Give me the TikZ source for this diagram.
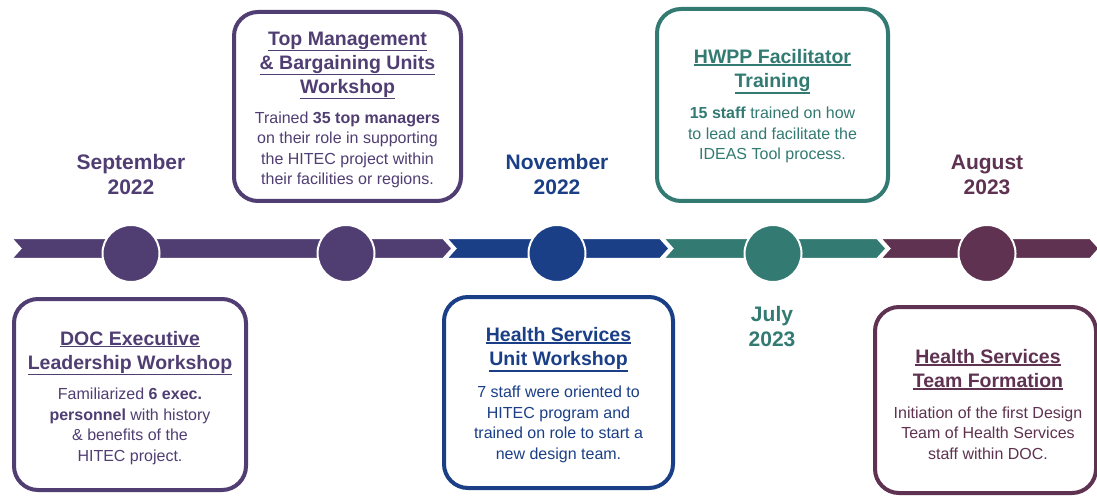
\documentclass[tikz,border=0pt]{standalone}
\usepackage{fontspec}
\setmainfont{Liberation Sans}
\definecolor{cpur}{HTML}{503E73}
\definecolor{cblu}{HTML}{1B3F87}
\definecolor{ctea}{HTML}{327A72}
\definecolor{cmar}{HTML}{5E3250}
\newcommand\tul[1]{\setbox0\hbox{#1}\rlap{\raisebox{-\dimexpr\dp0+1.9pt\relax}{\rule{\wd0}{1.2pt}}}\box0}
\tikzset{
  band/.style={fill=#1,draw=white,line width=1.2pt},
  dot/.style={circle,minimum size=57pt,inner sep=0pt,fill=#1,draw=white,line width=2pt},
  evbox/.style={draw=#1,line width=4pt,rounded corners=24pt,fill=white},
  ttl/.style={text=#1,font=\bfseries\fontsize{19.5}{24}\selectfont,align=center,inner sep=0pt},
  bdy/.style={text=#1,font=\fontsize{16}{20.5}\selectfont,align=center,inner sep=0pt},
  datelbl/.style={text=#1,font=\bfseries\fontsize{21}{25}\selectfont,align=center,inner sep=0pt}
}
\begin{document}
\begin{tikzpicture}[x=1pt,y=-1pt]
\useasboundingbox (0,0) rectangle (1097,497);
\clip (0,0) rectangle (1097,497);
% timeline band
\fill[band=cpur] (12,238.5) -- (443,238.5) -- (452,248.5) -- (443,258.5) -- (12,258.5) -- (21,248.5) -- cycle;
\fill[band=cblu] (447,238.5) -- (660,238.5) -- (669,248.5) -- (660,258.5) -- (447,258.5) -- (456,248.5) -- cycle;
\fill[band=ctea] (664,238.5) -- (877,238.5) -- (886,248.5) -- (877,258.5) -- (664,258.5) -- (673,248.5) -- cycle;
\fill[band=cmar] (881,238.5) -- (1090,238.5) -- (1099,248.5) -- (1090,258.5) -- (881,258.5) -- (890,248.5) -- cycle;
% circles
\node[dot=cpur] (c1) at (131,253.5) {};
\node[dot=cpur] (c2) at (346,253.5) {};
\node[dot=cblu] (c3) at (557,253.5) {};
\node[dot=ctea] (c4) at (773,253.5) {};
\node[dot=cmar] (c5) at (987,253.5) {};
% dates
\node[datelbl=cpur] (d1) at (131,174.5) {September\\2022};
\node[datelbl=cblu] (d3) at (557,174.5) {November\\2022};
\node[datelbl=ctea] (d4) at (772,326.5) {July\\2023};
\node[datelbl=cmar] (d5) at (987,174.5) {August\\2023};
% boxes
\draw[evbox=cpur] (14,299) rectangle (246,490);
\node[ttl=cpur] (t1) at (130,353) {\tul{DOC Executive}\\\tul{Leadership Workshop}};
\node[bdy=cpur] (b1) at (130,426.5) {Familiarized \textbf{6 exec.}\\\textbf{personnel} with history\\\& benefits of the\\HITEC project.};

\draw[evbox=cpur] (234,12) rectangle (461,201);
\node[ttl=cpur] (t2) at (347.5,65.5) {\tul{Top Management}\\\tul{\& Bargaining Units}\\\tul{Workshop}};
\node[bdy=cpur] (b2) at (347.5,150) {Trained \textbf{35 top managers}\\on their role in supporting\\the HITEC project within\\their facilities or regions.};

\draw[evbox=cblu] (444,297) rectangle (673,488);
\node[ttl=cblu] (t3) at (558.5,349.5) {\tul{Health Services}\\\tul{Unit Workshop}};
\node[bdy=cblu] (b3) at (558.5,424.5) {7 staff were oriented to\\HITEC program and\\trained on role to start a\\new design team.};

\draw[evbox=ctea] (657,9) rectangle (888,201);
\node[ttl=ctea] (t4) at (772.5,71.5) {\tul{HWPP Facilitator}\\\tul{Training}};
\node[bdy=ctea] (b4) at (772.5,135) {\textbf{15 staff} trained on how\\to lead and facilitate the\\IDEAS Tool process.};

\draw[evbox=cmar] (875,307) rectangle (1096,493);
\node[ttl=cmar] (t5) at (988,369.5) {\tul{Health Services}\\\tul{Team Formation}};
\node[bdy=cmar] (b5) at (988,433) {Initiation of the first Design\\Team of Health Services\\staff within DOC.};
\end{tikzpicture}
\end{document}
